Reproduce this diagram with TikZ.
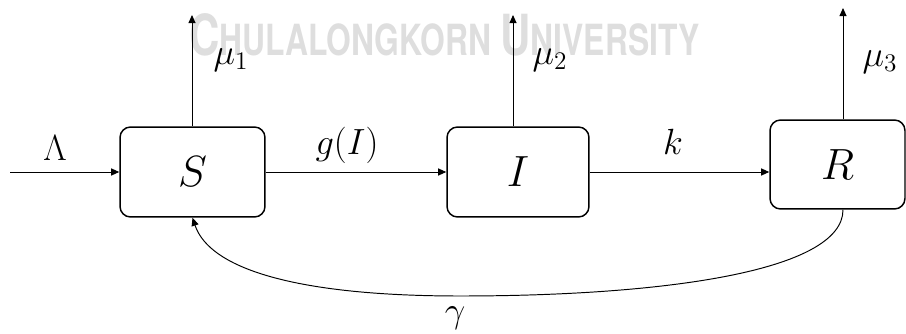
\documentclass[tikz,border=0pt]{standalone}
\usepackage{amsmath,amssymb}
\usepackage{fontspec}
\newfontfamily\markfont{TeX Gyre Heros}
\usepackage{tikz}
\usetikzlibrary{calc}
\usetikzlibrary{arrows.meta}
\tikzset{
    compbox/.style={
        draw,
        line width=0.85pt,
        rounded corners=6pt,
        minimum height=1.8cm,
        font=\fontsize{25}{30}\selectfont
    },
    % arrows between the boxes
    flowarrow/.style={
        line width=0.55pt,
        black,
        ->,
        >={Triangle[length=4.6pt, width=4pt]}
    },
    ratelabel/.style={
        font=\fontsize{20}{24}\selectfont
    }
}
\begin{document}
\begin{tikzpicture}[x=0.02cm,y=-0.02cm]
    \useasboundingbox (0,0) rectangle (906,334);
    \node[anchor=south west, inner sep=0pt, text=black!13] (mark) at (189,57)
        {\resizebox{10.2cm}{0.84cm}{\markfont\bfseries{\fontsize{33}{33}\selectfont C}\fontsize{25}{25}\selectfont HULALONGKORN {\fontsize{33}{33}\selectfont U}NIVERSITY}};
    \node[compbox, minimum width=2.9cm] (S) at (192.5,172) {$S$};
    \node[compbox, minimum width=2.84cm] (I) at (518,172) {$I$};
    \node[compbox, minimum width=2.7cm, minimum height=1.78cm] (R) at (837.5,164.5) {$R$};
    \coordinate (in) at (10,172);
    \coordinate (outS) at (192,15);
    \coordinate (outI) at (513,15);
    \coordinate (outR) at (843,8);
    \draw[flowarrow] (in) -- (S.west);
    \draw[flowarrow] (S.east) -- (I.west);
    \draw[flowarrow] (I.east) -- (I.east -| R.west);
    \draw[flowarrow] (outS |- S.north) -- (outS);
    \draw[flowarrow] (outI |- I.north) -- (outI);
    \draw[flowarrow] (outR |- R.north) -- (outR);
    \draw[flowarrow] (outR |- R.south) .. controls (843,272) and (660,296) .. (460,296)
        .. controls (300,296) and (210,270) .. (S.south);
    \node[ratelabel] (lam) at (55,148) {$\Lambda$};
    \node[ratelabel] (gI) at (347,145) {$g(I)$};
    \node[ratelabel] (k) at (673,142) {$k$};
    \node[ratelabel] (mu1) at (231,60) {$\mu_1$};
    \node[ratelabel] (mu2) at (550,60) {$\mu_2$};
    \node[ratelabel] (mu3) at (880,62) {$\mu_3$};
    \node[ratelabel] (gam) at (455,318) {$\gamma$};
\end{tikzpicture}
\end{document}
